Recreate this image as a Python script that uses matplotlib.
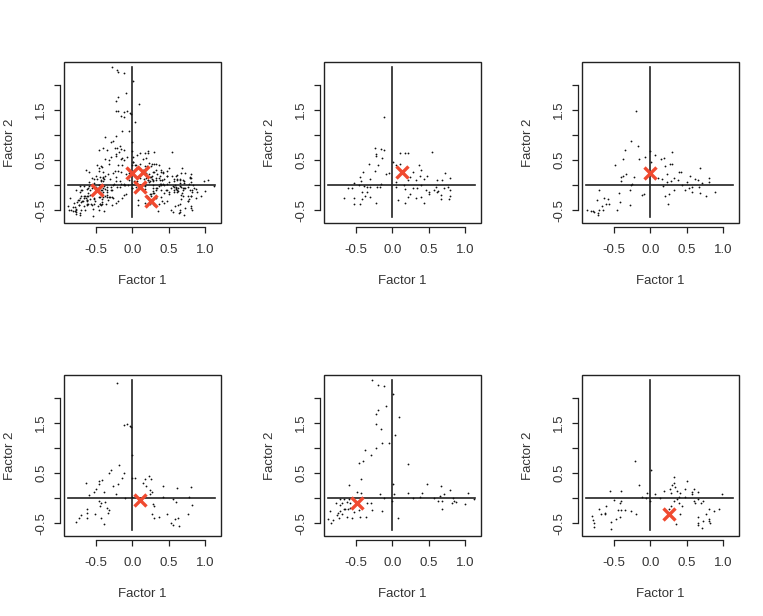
import matplotlib
matplotlib.use('Agg')
import matplotlib.pyplot as plt
from matplotlib.patches import Rectangle

plt.rcParams['font.family'] = ['Liberation Sans', 'DejaVu Sans']

# factor scores (x = Factor 1, y = Factor 2)
g2_x = [-0.11, -0.24, -0.15, -0.11, -0.22, -0.23, -0.32, -0.14, -0.20, -0.24, -0.40, -0.44, -0.31, -0.09, -0.04,
        -0.43, -0.53, -0.61, -0.55, -0.46, -0.39, -0.35, -0.30, -0.21, -0.17, -0.15, -0.67, -0.53, -0.53, -0.44,
        -0.42, -0.38, -0.35, -0.31, -0.22, -0.41, 0.01, 0.05, 0.11, 0.18, 0.22, 0.55, 0.11, 0.17, 0.28, 0.37, 0.40,
        0.25, 0.32, 0.38, 0.44, 0.48, 0.61, 0.69, 0.73, 0.79, 0.21, 0.07, 0.05, 0.16, 0.18, 0.28, 0.34, 0.39, 0.46,
        0.50, 0.57, 0.63, 0.67, 0.76, 0.79, 0.80, 0.78, 0.67, 0.50, 0.39, 0.43, 0.32, 0.24, 0.21, 0.17, 0.08, 0.05,
        0.60, 0.71, 0.62]
g2_y = [1.35, 0.75, 0.73, 0.70, 0.63, 0.58, 0.42, 0.55, 0.40, 0.29, 0.27, 0.17, 0.13, 0.22, 0.25,
        0.09, 0.05, -0.05, -0.05, 0.00, -0.02, -0.03, -0.03, -0.03, -0.03, 0.03, -0.25, -0.25, -0.37, -0.38,
        -0.27, -0.21, -0.13, -0.23, -0.35, -0.13, 0.47, 0.40, 0.65, 0.65, 0.65, 0.67, 0.43, 0.33, 0.27, 0.40, 0.30,
        0.17, 0.10, 0.18, 0.13, 0.19, 0.11, 0.11, 0.25, 0.15, 0.10, 0.17, 0.07, 0.00, -0.07, -0.05, -0.05, 0.00, -0.09,
        -0.13, -0.10, -0.12, -0.19, -0.03, -0.10, -0.21, -0.28, -0.28, -0.18, -0.23, -0.35, -0.25, -0.18, -0.23, -0.35, -0.30, -0.03,
        -0.03, -0.05, -0.13]

g3_x = [-0.20, -0.27, -0.17, -0.35, -0.37, -0.15, -0.07, -0.01, 0.01, 0.06, 0.14, 0.19, 0.30, -0.48, -0.33,
        -0.40, -0.37, -0.22, -0.25, -0.40, 0.20, 0.27, 0.30, 0.23, 0.39, 0.42, 0.33, 0.38, 0.10, 0.16, 0.23, 0.29,
        0.50, 0.55, 0.62, 0.66, 0.68, 0.80, 0.81, 0.71, 0.57, 0.53, 0.43, 0.48, 0.57, 0.67, 0.68, 0.76, 0.89, 0.32,
        0.26, 0.20, 0.24, 0.18, -0.09, -0.11, -0.26, -0.28, -0.43, -0.42, -0.28, -0.46, -0.71, -0.73, -0.64, -0.58,
        -0.61, -0.57, -0.67, -0.70, -0.77, -0.72, -0.82, -0.87, -0.65, -0.72, -0.79]
g3_y = [1.47, 0.89, 0.78, 0.70, 0.53, 0.53, 0.57, 0.69, 0.47, 0.60, 0.53, 0.55, 0.67, 0.40, 0.23,
        0.17, 0.18, 0.17, 0.03, 0.09, 0.38, 0.42, 0.42, 0.23, 0.27, 0.27, 0.15, 0.11, 0.15, 0.13, 0.07, 0.09,
        0.07, 0.18, 0.13, 0.11, 0.35, 0.15, 0.07, 0.05, -0.03, -0.05, 0.00, -0.10, -0.13, -0.03, -0.15, -0.22, -0.13, -0.10,
        -0.18, -0.22, -0.38, -0.02, -0.17, -0.19, 0.00, -0.09, -0.15, -0.33, -0.39, -0.49, -0.09, -0.29, -0.25, -0.27,
        -0.37, -0.37, -0.41, -0.49, -0.53, -0.55, -0.51, -0.49, -0.49, -0.60, -0.51]

g4_x = [-0.21, -0.12, -0.07, -0.03, -0.02, 0.00, -0.19, -0.30, -0.32, -0.11, -0.14, -0.20, -0.27, -0.46, -0.42,
        -0.46, -0.50, -0.53, -0.64, -0.59, -0.39, -0.22, -0.10, 0.00, 0.04, 0.14, 0.17, 0.23, 0.26, 0.19, 0.24,
        0.27, 0.24, 0.42, 0.61, 0.80, 0.42, 0.56, 0.60, 0.78, 0.82, 0.28, 0.30, 0.27, 0.30, 0.36, 0.47, 0.58, 0.53,
        0.56, 0.64, 0.63, 0.76, -0.46, -0.43, -0.45, -0.37, -0.35, -0.32, -0.34, -0.51, -0.62, -0.63, -0.62, -0.71,
        -0.73, -0.78, -0.43, -0.39, 0.00]
g4_y = [2.29, 1.46, 1.48, 1.43, 1.41, 0.86, 0.66, 0.57, 0.50, 0.50, 0.41, 0.28, 0.25, 0.35, 0.37,
        0.28, 0.19, 0.13, 0.30, 0.06, 0.13, 0.08, 0.00, 0.41, 0.41, 0.30, 0.38, 0.45, 0.39, 0.25, 0.17,
        0.13, 0.08, 0.25, 0.21, 0.23, 0.03, -0.02, -0.07, 0.03, -0.14, -0.12, -0.15, -0.32, -0.39, -0.37, -0.32, -0.42, -0.49,
        -0.54, -0.55, -0.39, -0.31, -0.05, -0.10, -0.15, -0.07, -0.19, -0.24, -0.29, -0.32, -0.21, -0.30, -0.39, -0.34,
        -0.39, -0.47, -0.39, -0.51, 0.03]

g5_x = [-0.28, -0.20, -0.12, 0.01, -0.09, -0.20, -0.22, 0.09, -0.22, -0.16, 0.04, -0.14, -0.05, -0.22, -0.38,
        -0.29, -0.40, -0.46, 0.22, -0.43, 0.01, -0.59, 0.48, 0.67, 0.79, -0.49, -0.17, 0.02, 0.22, 0.41, 0.38,
        0.29, 0.58, 0.71, 0.66, 0.83, 1.04, 1.13, 1.00, 0.88, 0.82, 0.85, 0.69, 0.63, 0.69, 0.08, -0.11, 0.00,
        -0.14, -0.28, -0.29, -0.35, -0.36, -0.45, -0.56, -0.46, -0.58, -0.60, -0.63, -0.66, -0.69, -0.72, -0.77,
        -0.72, -0.65, -0.67, -0.61, -0.72, -0.75, -0.69, -0.76, -0.63, -0.74, -0.86, -0.88, -0.84, -0.81, -0.53,
        -0.58, -0.43]
g5_y = [2.36, 2.25, 2.23, 2.07, 1.83, 1.75, 1.68, 1.61, 1.48, 1.37, 1.26, 1.09, 1.09, 0.99, 0.97,
        0.86, 0.75, 0.70, 0.68, 0.39, 0.28, 0.27, 0.28, 0.25, 0.17, 0.13, 0.09, 0.09, 0.10, 0.10, 0.03,
        0.00, 0.00, 0.08, 0.05, 0.00, 0.10, -0.01, -0.11, -0.07, -0.09, -0.05, -0.05, -0.05, -0.21, -0.39, 0.01, -0.05,
        -0.25, -0.24, -0.10, -0.09, -0.37, -0.37, -0.39, -0.24, -0.09, -0.02, -0.07, -0.01, -0.09, -0.01, -0.09,
        -0.14, -0.21, -0.22, -0.22, -0.25, -0.29, -0.32, -0.34, -0.37, -0.39, -0.25, -0.41, -0.49, -0.43, -0.27,
        -0.19, 0.11]

g6_x = [-0.21, 0.01, -0.15, -0.55, -0.40, -0.04, 0.06, -0.12, -0.06, 0.13, 0.00, 0.19, 0.27, 0.30, 0.32,
        0.33, 0.50, 0.34, 0.29, 0.37, 0.41, 0.47, 0.57, 0.60, 0.66, 0.57, 0.48, 0.39, 0.37, 0.32, 0.39, 0.29,
        0.43, 0.41, 0.60, 0.62, 0.66, 0.69, 0.72, 0.80, 0.77, 0.87, 0.94, 0.98, 0.66, 0.66, 0.72, 0.80, 0.80,
        0.82, 0.66, 0.71, 0.35, 0.25, -0.50, -0.40, -0.42, -0.44, -0.41, -0.35, -0.27, -0.20, -0.42, -0.47, -0.54,
        -0.54, -0.61, -0.63, -0.68, -0.70, -0.80, -0.79, -0.78, -0.78, -0.62]
g6_y = [0.75, 0.57, 0.26, 0.15, 0.15, 0.10, 0.08, 0.03, 0.01, 0.00, -0.05, 0.15, 0.18, 0.26, 0.30,
        0.43, 0.35, 0.23, 0.11, 0.15, 0.11, 0.18, 0.13, 0.18, 0.13, 0.08, 0.03, 0.03, -0.02, -0.05, -0.09, -0.15,
        -0.15, -0.32, -0.05, -0.10, -0.02, -0.10, -0.05, -0.22, -0.31, -0.25, -0.22, 0.08, -0.37, -0.49, -0.45, -0.42, -0.45,
        -0.49, -0.54, -0.59, -0.52, -0.21, -0.03, -0.05, -0.10, -0.23, -0.23, -0.23, -0.25, -0.32, -0.37, -0.42, -0.47,
        -0.62, -0.15, -0.29, -0.31, -0.21, -0.35, -0.43, -0.50, -0.57, -0.32]

# cluster centres (red crosses)
cen_x = [0.14, 0.00, 0.11, -0.49, 0.25]
cen_y = [0.27, 0.24, -0.04, -0.09, -0.32]

groups = [(g2_x, g2_y), (g3_x, g3_y), (g4_x, g4_y), (g5_x, g5_y), (g6_x, g6_y)]
all_x = g2_x + g3_x + g4_x + g5_x + g6_x
all_y = g2_y + g3_y + g4_y + g5_y + g6_y

panels = [(all_x, all_y, cen_x, cen_y)]
for i, (gx, gy) in enumerate(groups):
    panels.append((gx, gy, [cen_x[i]], [cen_y[i]]))

fig = plt.figure(figsize=(7.63, 6.16), dpi=100)
lefts = [0.0839, 0.4246, 0.7628]
bottoms = [0.638, 0.130]
w, h = 0.2058, 0.2610

for k, (px, py, cx, cy) in enumerate(panels):
    ax = fig.add_axes([lefts[k % 3], bottoms[k // 3], w, h])
    ax.plot(px, py, 'o', color='#111111', markersize=1.3, markeredgewidth=0, zorder=2)
    # reference axes through the origin
    ax.plot([-0.88, 1.14], [0, 0], color='#222222', lw=1.2, zorder=1)
    ax.plot([0, 0], [-0.63, 2.35], color='#222222', lw=1.2, zorder=1)
    ax.plot(cx, cy, 'x', color='#f04a30', markersize=8, markeredgewidth=2.4, zorder=3)
    ax.set_xlim(-0.94, 1.22)
    ax.set_ylim(-0.75, 2.45)
    for s in ['top', 'right']:
        ax.spines[s].set_visible(False)
    ax.spines['left'].set_position(('outward', 3))
    ax.spines['bottom'].set_position(('outward', 3))
    ax.spines['left'].set_bounds(-0.5, 2.0)
    ax.spines['bottom'].set_bounds(-0.5, 1.0)
    ax.add_patch(Rectangle((0, 0), 1, 1, transform=ax.transAxes, fill=False,
                           edgecolor='#222222', lw=1.0, clip_on=False, zorder=4))
    ax.set_xticks([-0.5, 0.0, 0.5, 1.0])
    ax.set_xticklabels(['-0.5', '0.0', '0.5', '1.0'])
    ax.set_yticks([-0.5, 0.0, 0.5, 1.0, 1.5, 2.0])
    ax.set_yticklabels(['-0.5', '', '0.5', '', '1.5', ''], rotation=90, va='center')
    ax.tick_params(direction='out', length=4, width=0.9, labelsize=9.5, colors='#222222',
                   labelcolor='#333333')
    ax.tick_params(axis='x', pad=8)
    ax.tick_params(axis='y', pad=5)
    for s in ['left', 'bottom']:
        ax.spines[s].set_linewidth(0.9)
        ax.spines[s].set_color('#222222')
    ax.set_xlabel('Factor 1', fontsize=9.5, labelpad=14, color='#333333')
    ax.set_ylabel('Factor 2', fontsize=9.5, labelpad=14, color='#333333')

fig.savefig('out.png', dpi=100)
